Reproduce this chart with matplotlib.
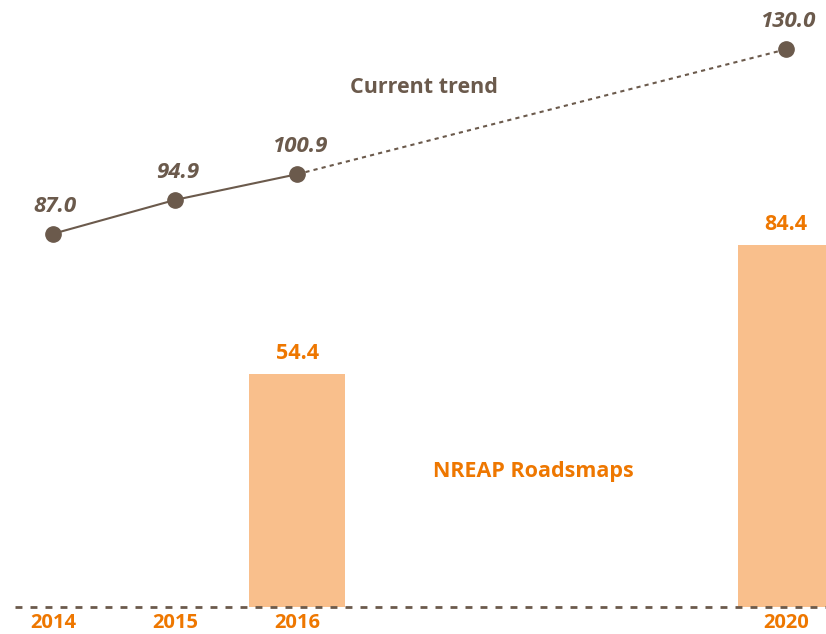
import matplotlib.pyplot as plt

# Data
trend_years = [2014, 2015, 2016, 2020]
trend_values = [87.0, 94.9, 100.9, 130.0]
bar_years = [2016, 2020]
bar_values = [54.4, 84.4]
tick_years = [2014, 2015, 2016, 2020]

brown = '#6b5a4c'
orange = '#ee7700'
bar_fill = '#f9bf8c'

plt.rcParams['font.family'] = ['Open Sans', 'DejaVu Sans']

fig = plt.figure(figsize=(8.26, 6.34), dpi=100)
ax = fig.add_axes([0, 0, 1, 1])
ax.set_xlim(2013.566, 2020.327)
ax.set_ylim(-6.3, 141.5)
ax.axis('off')

# NREAP bars
ax.bar(bar_years, bar_values, width=0.786, color=bar_fill, zorder=1)
for x, v in zip(bar_years, bar_values):
    ax.annotate(f'{v:.1f}', (x, v), xytext=(0, 10), textcoords='offset pixels',
                ha='center', va='bottom', color=orange, fontsize=15.5,
                fontweight='bold')

# baseline
ax.axhline(0, xmin=15 / 826, xmax=1, color=brown, lw=2,
           linestyle=(0, (2.5, 2.9)), zorder=2)

# current trend: solid for actuals, dotted for projection
ax.plot(trend_years[:3], trend_values[:3], color=brown, lw=1.5, zorder=3)
ax.plot(trend_years[2:], trend_values[2:], color=brown, lw=1.5,
        linestyle=(0, (2, 2)), zorder=3)
ax.plot(trend_years, trend_values, 'o', color=brown, markersize=11, zorder=4)
for x, v in zip(trend_years, trend_values):
    ax.annotate(f'{v:.1f}', (x, v), xytext=(2, 17), textcoords='offset pixels',
                ha='center', va='bottom', color=brown, fontsize=16,
                fontweight='bold', fontstyle='italic')

# tick labels (sit right at the bottom edge)
for y in tick_years:
    ax.text(y, -6.0, str(y), ha='center', va='bottom', color=orange,
            fontsize=14.5, fontweight='bold')

ax.text(2017.04, 121.2, 'Current trend', ha='center', va='center',
        color=brown, fontsize=15.5, fontweight='bold')
ax.text(2017.93, 31.5, 'NREAP Roadsmaps', ha='center', va='center',
        color=orange, fontsize=15.5, fontweight='bold')

fig.savefig('out.png', dpi=100)
